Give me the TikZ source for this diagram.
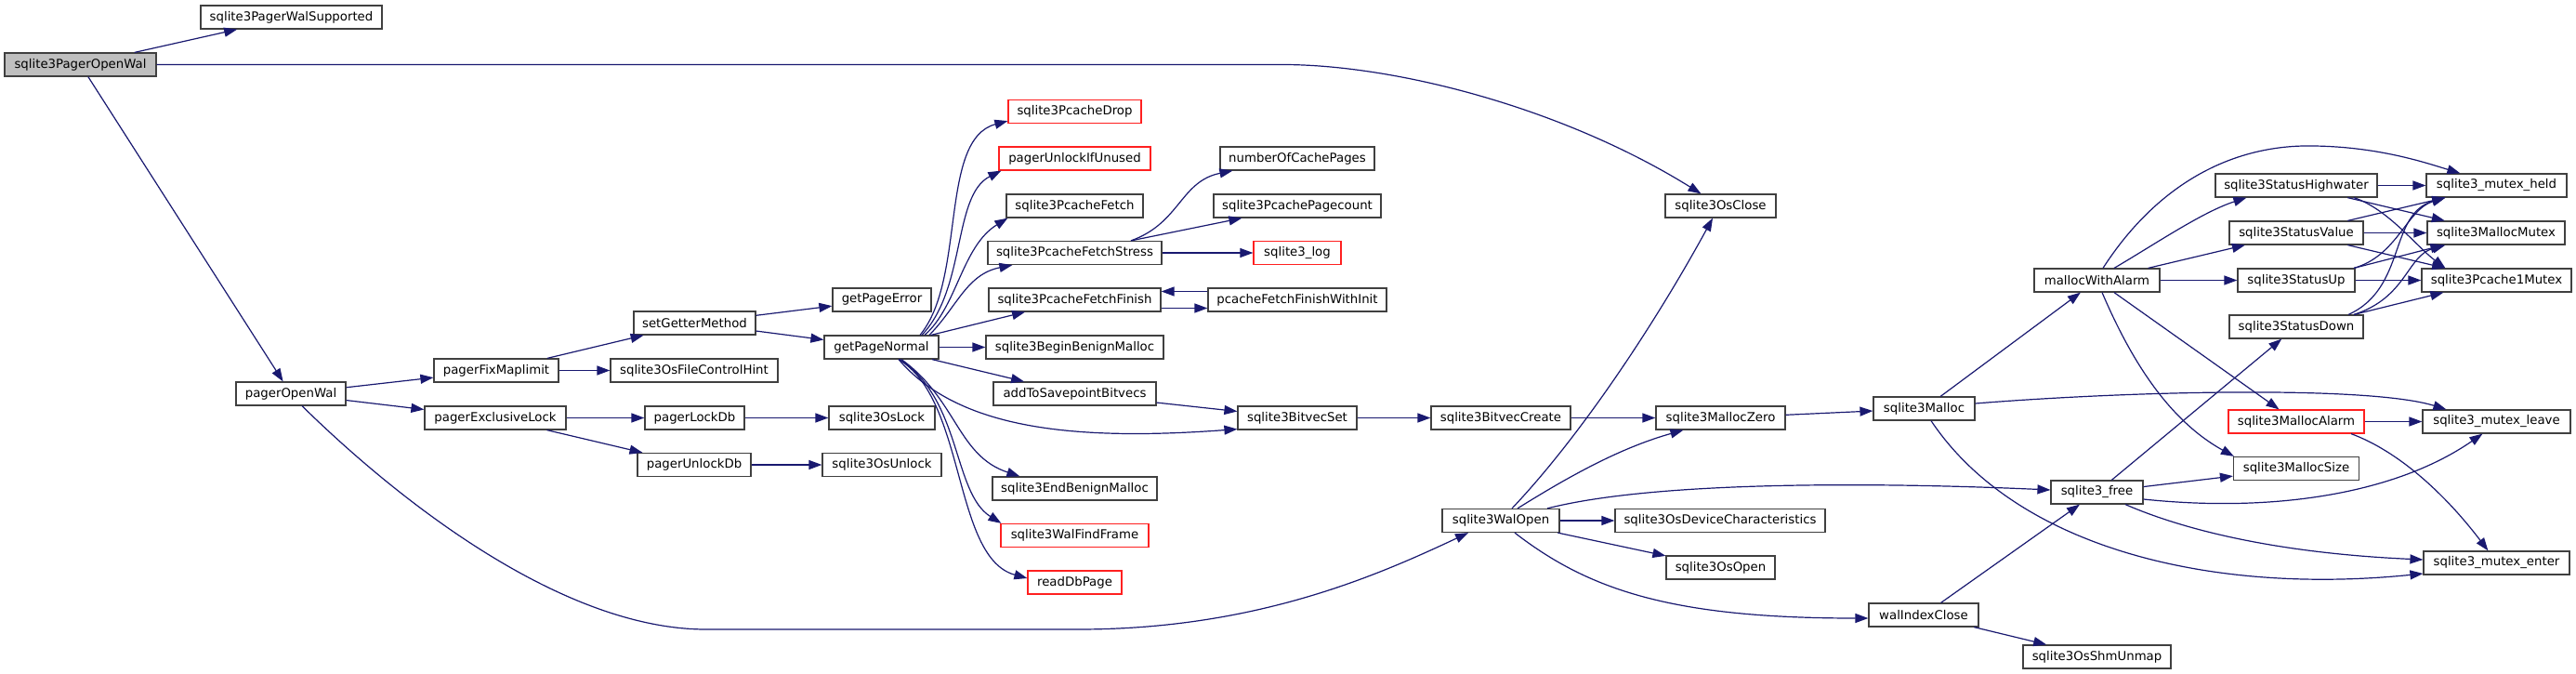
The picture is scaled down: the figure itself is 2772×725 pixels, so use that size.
\documentclass[tikz,border=0pt]{standalone}
\usepackage{fontspec}
\setmainfont{DejaVu Sans}
\usetikzlibrary{arrows.meta,calc}
\definecolor{edgec}{HTML}{191970}
\definecolor{boxc}{HTML}{404040}
\definecolor{redc}{HTML}{FF2020}
\definecolor{rootfill}{HTML}{BFBFBF}
\begin{document}
\begin{tikzpicture}[x=1pt,y=-1pt,
  fn/.style={draw=boxc, line width=1.2pt, rectangle, minimum height=25pt, inner xsep=2pt, inner ysep=2pt, font=\fontsize{13.3}{16}\selectfont, fill=white},
  trunc/.style={fn, draw=redc},
  rootn/.style={fn, fill=rootfill},
  edg/.style={draw=edgec, line width=1.2pt, -{Triangle[length=14pt,width=10pt]}}]
\useasboundingbox (0,0) rectangle (2772,725);
\fill[white] (0,0) rectangle (2772,725);
% nodes
\node[rootn, minimum width=163pt] (root) at (86.5,69.5) {sqlite3PagerOpenWal};
\node[fn, minimum width=195pt] (walsup) at (313.5,18.5) {sqlite3PagerWalSupported};
\node[fn, minimum width=118pt] (pow) at (313,423.5) {pagerOpenWal};
\node[fn, minimum width=134pt] (pfm) at (534,398.5) {pagerFixMaplimit};
\node[fn, minimum width=152pt] (pel) at (533,449.5) {pagerExclusiveLock};
\node[fn, minimum width=131pt] (sgm) at (747.5,347.5) {setGetterMethod};
\node[fn, minimum width=180pt] (fch) at (747,398.5) {sqlite3OsFileControlHint};
\node[fn, minimum width=107pt] (pld) at (747.5,449.5) {pagerLockDb};
\node[fn, minimum width=122pt] (pud) at (747,500) {pagerUnlockDb};
\node[fn, minimum width=106pt] (gpe) at (949,322.5) {getPageError};
\node[fn, minimum width=123pt] (gpn) at (948.5,373.5) {getPageNormal};
\node[fn, minimum width=114pt] (oslock) at (949,449.5) {sqlite3OsLock};
\node[fn, minimum width=128pt] (osunlock) at (949,500) {sqlite3OsUnlock};
\node[trunc, minimum width=143pt] (drop) at (1156.5,120) {sqlite3PcacheDrop};
\node[trunc, minimum width=163pt] (unl) at (1156.5,170.5) {pagerUnlockIfUnused};
\node[fn, minimum width=147pt] (fetch) at (1156.5,221.5) {sqlite3PcacheFetch};
\node[fn, minimum width=187pt] (stress) at (1156.5,272) {sqlite3PcacheFetchStress};
\node[fn, minimum width=185pt] (finish) at (1156.5,322.5) {sqlite3PcacheFetchFinish};
\node[fn, minimum width=191pt] (bbm) at (1156.5,373.5) {sqlite3BeginBenignMalloc};
\node[fn, minimum width=175pt] (atsb) at (1156.5,423.5) {addToSavepointBitvecs};
\node[fn, minimum width=177pt] (ebm) at (1156.5,525.5) {sqlite3EndBenignMalloc};
\node[trunc, minimum width=159pt] (wff) at (1156.5,576) {sqlite3WalFindFrame};
\node[trunc, minimum width=101pt] (rdp) at (1156.5,626.5) {readDbPage};
\node[fn, minimum width=166pt] (nocp) at (1396,170.5) {numberOfCachePages};
\node[fn, minimum width=180pt] (ppc) at (1396,221.5) {sqlite3PcachePagecount};
\node[trunc, minimum width=94pt] (log) at (1396,272) {sqlite3\_log};
\node[fn, minimum width=192pt] (pffwi) at (1396,322.5) {pcacheFetchFinishWithInit};
\node[fn, minimum width=128pt] (bvs) at (1396,449.5) {sqlite3BitvecSet};
\node[fn, minimum width=150pt] (bvc) at (1615,449.5) {sqlite3BitvecCreate};
\node[fn, minimum width=126pt] (walopen) at (1615,560) {sqlite3WalOpen};
\node[fn, minimum width=119pt] (osclose) at (1851.5,221.5) {sqlite3OsClose};
\node[fn, minimum width=139pt] (mz) at (1851.5,449.5) {sqlite3MallocZero};
\node[fn, minimum width=226pt] (odc) at (1851,560) {sqlite3OsDeviceCharacteristics};
\node[fn, minimum width=117pt] (osopen) at (1851.5,610.5) {sqlite3OsOpen};
\node[fn, minimum width=109pt] (malloc) at (2070.5,439.5) {sqlite3Malloc};
\node[fn, minimum width=118pt] (wic) at (2070,661.5) {walIndexClose};
\node[fn, minimum width=135pt] (mwa) at (2256.5,301.5) {mallocWithAlarm};
\node[fn, minimum width=99pt] (free) at (2256.5,529.5) {sqlite3\_free};
\node[fn, minimum width=159pt] (shm) at (2256.5,706.5) {sqlite3OsShmUnmap};
\node[fn, minimum width=174pt] (shw) at (2471,199.5) {sqlite3StatusHighwater};
\node[fn, minimum width=144pt] (sv) at (2471,250.5) {sqlite3StatusValue};
\node[fn, minimum width=126pt] (su) at (2471,301.5) {sqlite3StatusUp};
\node[fn, minimum width=144pt] (sd) at (2471,351.5) {sqlite3StatusDown};
\node[trunc, minimum width=146pt] (ma) at (2471,453.5) {sqlite3MallocAlarm};
\node[fn, minimum width=135pt] (msz) at (2471,504) {sqlite3MallocSize};
\node[fn, minimum width=151pt] (mh) at (2686.5,199.5) {sqlite3\_mutex\_held};
\node[fn, minimum width=148pt] (mm) at (2686,250.5) {sqlite3MallocMutex};
\node[fn, minimum width=161pt] (pcm) at (2686.5,301.5) {sqlite3Pcache1Mutex};
\node[fn, minimum width=159pt] (ml) at (2686.5,453.5) {sqlite3\_mutex\_leave};
\node[fn, minimum width=157pt] (me) at (2686.5,605.5) {sqlite3\_mutex\_enter};
% edges
\draw[edg] (root) -- (walsup);
\draw[edg] (root.east) -- (1380,69.5) .. controls (1500,69.5) and (1680,115) .. ($(osclose.north)+(-21,0)$);
\draw[edg] (root) -- (pow);
\draw[edg] (pow) -- (pfm);
\draw[edg] (pow) -- (pel);
\draw[edg] ($(pow.south)+(12,0)$) .. controls (420,530) and (600,677) .. (760,677) -- (1160,677) .. controls (1350,677) and (1480,620) .. ($(walopen.south)+(-35,0)$);
\draw[edg] (pfm) -- (sgm);
\draw[edg] (pfm) -- (fch);
\draw[edg] (pel) -- (pld);
\draw[edg] (pel) -- (pud);
\draw[edg] (pld) -- (oslock);
\draw[edg] (pud) -- (osunlock);
\draw[edg] (sgm) -- (gpe);
\draw[edg] (sgm) -- (gpn);
\draw[edg] ($(gpn.north)+(41.5,0)$) .. controls (1040,300) and (1010,150) .. ($(drop.south west)+(0,-3)$);
\draw[edg] ($(gpn.north)+(43.5,0)$) .. controls (1040,310) and (1025,210) .. ($(unl.south west)+(3,0)$);
\draw[edg] ($(gpn.north)+(46.5,0)$) .. controls (1030,330) and (1035,265) .. ($(fetch.south west)+(2,0)$);
\draw[edg] ($(gpn.north)+(51.5,0)$) .. controls (1030,330) and (1040,295) .. ($(stress.south west)+(27,0)$);
\draw[edg] (gpn) -- (finish);
\draw[edg] (gpn) -- (bbm);
\draw[edg] (gpn) -- (atsb);
\draw[edg] ($(gpn.south)+(18.5,0)$) .. controls (1030,460) and (1150,475) .. ($(bvs.south west)+(0,-1)$);
\draw[edg] ($(gpn.south)+(21.5,0)$) .. controls (1030,430) and (1030,490) .. ($(ebm.north west)+(30,0)$);
\draw[edg] ($(gpn.south)+(19.5,0)$) .. controls (1035,430) and (1025,530) .. ($(wff.north west)+(1,0)$);
\draw[edg] ($(gpn.south)+(18.5,0)$) .. controls (1040,430) and (1025,600) .. ($(rdp.west)+(0,-4.5)$);
\draw[edg] ($(stress.north)+(60.5,0)$) .. controls (1270,240) and (1270,195) .. ($(nocp.south west)+(14,0)$);
\draw[edg] ($(stress.north)+(60.5,0)$) -- ($(ppc.south west)+(31,0)$);
\draw[edg] (stress) -- (log);
\draw[edg] ($(finish.east)+(0,9)$) -- ($(pffwi.west)+(0,9)$);
\draw[edg] ($(pffwi.west)+(0,-9)$) -- ($(finish.east)+(0,-9)$);
\draw[edg] (atsb) -- (bvs);
\draw[edg] (bvs) -- (bvc);
\draw[edg] (bvc) -- (mz);
\draw[edg] (mz) -- (malloc);
\draw[edg] (malloc) -- (mwa);
\draw[edg] ($(malloc.east)+(0,-5.5)$) .. controls (2300,420) and (2550,415) .. ($(ml.north west)+(26,0)$);
\draw[edg] ($(malloc.south)+(7.5,0)$) .. controls (2170,590) and (2380,640) .. ($(me.west)+(0,11.5)$);
\draw[edg] ($(walopen.north)+(12,0)$) .. controls (1700,470) and (1780,350) .. ($(osclose.south)+(-8.5,0)$);
\draw[edg] ($(walopen.north)+(18,0)$) .. controls (1700,505) and (1750,480) .. ($(mz.south west)+(30,0)$);
\draw[edg] ($(walopen.north)+(50,0)$) .. controls (1790,515) and (2050,520) .. ($(free.west)+(0,-2.5)$);
\draw[edg] (walopen) -- (odc);
\draw[edg] (walopen) -- (osopen);
\draw[edg] ($(walopen.south)+(15,0)$) .. controls (1710,635) and (1800,665) .. ($(wic.west)+(0,3.5)$);
\draw[edg] (wic) -- (free);
\draw[edg] (wic) -- (shm);
\draw[edg] ($(mwa.north)+(6.5,0)$) .. controls (2320,200) and (2400,155) .. (2490,157) .. controls (2560,158) and (2610,175) .. ($(mh.north west)+(37,0)$);
\draw[edg] ($(mwa.north)+(18.5,0)$) .. controls (2320,262) and (2370,228) .. ($(shw.south west)+(34,0)$);
\draw[edg] (mwa) -- (sv);
\draw[edg] (mwa) -- (su);
\draw[edg] (mwa) -- (ma);
\draw[edg] ($(mwa.south)+(5.5,0)$) .. controls (2290,380) and (2330,450) .. ($(msz.north west)+(1,0)$);
\draw[edg] (shw) -- (mh);
\draw[edg] (shw) -- (mm);
\draw[edg] ($(shw.south)+(62,0)$) .. controls (2570,225) and (2600,265) .. ($(pcm.north west)+(26,0)$);
\draw[edg] (sv) -- (mh);
\draw[edg] (sv) -- (mm);
\draw[edg] (sv) -- (pcm);
\draw[edg] ($(su.north)+(62,0)$) .. controls (2580,275) and (2590,225) .. ($(mh.south west)+(21,0)$);
\draw[edg] ($(su.north)+(62,0)$) -- ($(mm.south west)+(18,0)$);
\draw[edg] (su) -- (pcm);
\draw[edg] ($(sd.north)+(56,0)$) .. controls (2590,310) and (2570,230) .. ($(mh.south west)+(21,0)$);
\draw[edg] ($(sd.north)+(62,0)$) .. controls (2590,320) and (2590,275) .. ($(mm.south west)+(20,0)$);
\draw[edg] ($(sd.north)+(62,0)$) -- ($(pcm.south west)+(24,0)$);
\draw[edg] (free) -- (sd);
\draw[edg] (free) -- (msz);
\draw[edg] ($(free.east)+(0,7.5)$) .. controls (2450,552) and (2580,530) .. ($(ml.south west)+(65,0)$);
\draw[edg] ($(free.south)+(30.5,0)$) .. controls (2350,570) and (2450,595) .. ($(me.west)+(0,-3.5)$);
\draw[edg] (ma) -- (ml);
\draw[edg] ($(ma.south)+(59,0)$) .. controls (2580,485) and (2630,530) .. ($(me.north west)+(70,0)$);
\end{tikzpicture}
\end{document}
